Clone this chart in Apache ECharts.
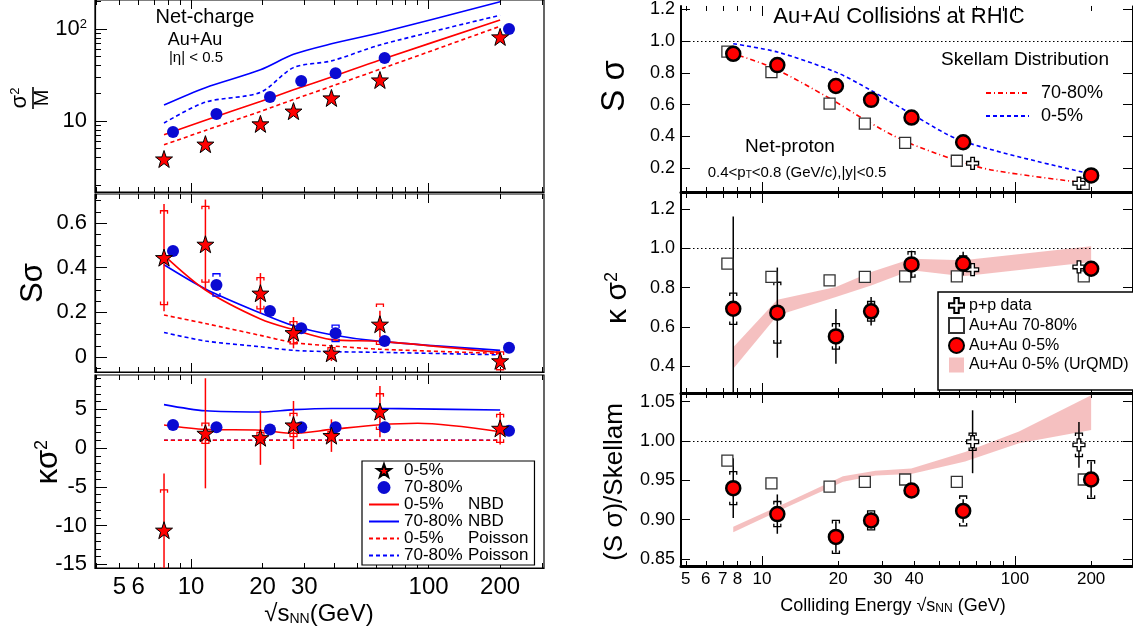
<!DOCTYPE html>
<html><head><meta charset="utf-8">
<script src="https://cdn.jsdelivr.net/npm/echarts@6/dist/echarts.min.js"></script>
<style>html,body{margin:0;padding:0;background:#fff}#c{width:1133px;height:636px}</style>
</head><body><div id="c"></div>
<script>
// ================= DATA =================
const energyAuAu = [7.7, 11.5, 19.6, 27, 39, 62.4, 200];
// ---- left: net-charge ----
const ncEnergy7080 = [8.4, 12.8, 21.5, 29.1, 40.6, 65.3, 218];
const ncVarM_05 = [3.86, 5.6, 9.3, 12.8, 17.8, 27.9, 82];
const ncVarM_7080 = [7.6, 11.9, 18.2, 27.2, 33, 48.4, 100];
const ncVarM_NBD05 = [7.1, 10.2, 16.3, 21.8, 30, 46, 125];
const ncVarM_NBD7080 = [14.9, 23, 36, 53, 69, 91, 198];
const ncVarM_Poi05 = [5.5, 7.9, 12.7, 17.1, 23.8, 36.5, 107];
const ncVarM_Poi7080 = [9.5, 16, 20.5, 38, 45, 67, 141];

const ncSs_05 = [0.445, 0.505, 0.286, 0.109, 0.017, 0.147, -0.017];
const ncSs_05stat = [0.24, 0.2, 0.09, 0.07, 0.035, 0.06, 0.02];
const ncSs_05sys = [0.21, 0.17, 0.07, 0.05, 0.025, 0.09, 0.04];
const ncSs_7080 = [0.475, 0.323, 0.206, 0.129, 0.106, 0.072, 0.042];
const ncSs_7080sys = [0, 0.05, 0, 0, 0.037, 0, 0];
const ncSs_NBD05 = [0.455, 0.3, 0.17, 0.122, 0.078, 0.07, 0.02];
const ncSs_NBD7080 = [0.413, 0.305, 0.197, 0.14, 0.1, 0.07, 0.03];
const ncSs_Poi05 = [0.188, 0.15, 0.097, 0.065, 0.05, 0.035, 0.016];
const ncSs_Poi7080 = [0.11, 0.072, 0.046, 0.03, 0.024, 0.021, 0.01];

const ncKs_05 = [-10.6, 1.9, 1.33, 2.97, 1.6, 4.7, 2.54];
const ncKs_05stat = [7.3, 7.1, 3.5, 3.1, 2.1, 3.3, 2.1];
const ncKs_05sys = [5.2, 1.3, 0.7, 1.5, 0.5, 2.3, 1.8];
const ncKs_7080 = [2.97, 2.67, 2.4, 2.67, 2.67, 2.67, 2.24];
const ncKsModelEnergy = [7.7, 11.5, 19.6, 27, 39, 62.4, 90, 200];
const ncKs_NBD05 = [2.97, 2.4, 2.3, 1.9, 2.4, 3.0, 3.2, 2.1];
const ncKs_NBD7080 = [5.6, 4.8, 4.65, 4.95, 5.1, 5.1, 5.05, 4.9];
const ncKs_Poi05 = [1, 1, 1, 1, 1, 1, 1, 1];
const ncKs_Poi7080 = [1, 1, 1, 1, 1, 1, 1, 1];

// ---- right: net-proton ----
const npEnergy7080 = [7.3, 10.9, 18.5, 25.5, 36.8, 58.9, 187];
const ppEnergy = [68, 179];
const npSs_05 = [0.919, 0.848, 0.717, 0.63, 0.519, 0.364, 0.156];
const npSs_7080 = [0.933, 0.804, 0.606, 0.481, 0.36, 0.248, 0.103];
const npSs_pp = [0.232, 0.107];
const skellam05 = [0.982, 0.93, 0.804, 0.689, 0.541, 0.37, 0.165];
const skellamEnergy7080 = [7.3, 10.9, 18.5, 25.5, 36.8, 58.9, 82, 187];
const skellam7080 = [0.93, 0.835, 0.64, 0.505, 0.37, 0.25, 0.188, 0.11];

const npKs_05 = [0.692, 0.672, 0.551, 0.679, 0.918, 0.922, 0.896];
const npKs_05stat = [0.47, 0.23, 0.14, 0.073, 0.07, 0.06, 0.02];
const npKs_05sys = [0.08, 0.155, 0.065, 0.05, 0.065, 0.04, 0.01];
const npKs_7080 = [0.922, 0.854, 0.837, 0.854, 0.857, 0.857, 0.857];
const npKs_pp = [0.891, 0.905];
const urqmdKsHigh = [0.496, 0.738, 0.803, 0.879, 0.947, 0.939, 1.01];
const urqmdKsLow = [0.386, 0.658, 0.752, 0.811, 0.888, 0.857, 0.93];

const npR_05 = [0.940, 0.907, 0.878, 0.899, 0.937, 0.911, 0.951];
const npR_05stat = [0.038, 0.025, 0.02, 0.01, 0.005, 0.015, 0.023];
const npR_05sys = [0.021, 0.016, 0.021, 0.012, 0.005, 0.019, 0.024];
const npR_7080 = [0.975, 0.946, 0.942, 0.948, 0.951, 0.948, 0.951];
const npR_7080sys = [0, 0, 0, 0.006, 0.006, 0.006, 0];
const npR_pp = [0.999, 0.995];
const npR_ppstat = [0.04, 0.029];
const npR_ppsys = [0.011, 0.015];
const urqmdREnergy = [7.7, 12.4, 20.9, 28.1, 38.9, 63.5, 103.7, 200];
const urqmdRHigh = [0.891, 0.921, 0.955, 0.962, 0.965, 0.986, 1.012, 1.058];
const urqmdRLow = [0.884, 0.915, 0.948, 0.956, 0.958, 0.974, 0.997, 1.014];

// tick label lists
const leftXLabels = [5, 6, 10, 20, 30, 100, 200];
const rightXLabels = [5, 6, 7, 8, 10, 20, 30, 40, 100, 200];
const xMajorTicks = [10, 100];
const leftXMinorTicks = [4, 5, 6, 7, 8, 9, 20, 30, 40, 50, 60, 70, 80, 90, 200, 300];
const rightXMinorTicks = [5, 6, 7, 8, 9, 20, 30, 40, 50, 60, 70, 80, 90, 200];
const ltYLabels = [10, 100];
const ltYMinor = [2, 3, 4, 5, 6, 7, 8, 9, 20, 30, 40, 50, 60, 70, 80, 90, 200];
const lmYLabels = [0, 0.2, 0.4, 0.6];
const lbYLabels = [-15, -10, -5, 0, 5];
const rtYLabels = [0.2, 0.4, 0.6, 0.8, 1.0, 1.2];
const rmYLabels = [0.4, 0.6, 0.8, 1.0, 1.2];
const rbYLabels = [0.85, 0.90, 0.95, 1.00, 1.05];

// ================= BUILD =================
const L10 = Math.log10;
const FONT = '"Liberation Sans", Arial, Helvetica, sans-serif';
const RED = '#ff0000', BLUE = '#0000ff';
const grids = [], xAxis = [], yAxis = [], series = [];
const PX = [], PY = [];
const rng = (a, b, s) => { const r = []; for (let v = a; v <= b + 1e-9; v += s) r.push(+v.toFixed(4)); return r; };

function panel(box, xr, yr, o) {
  const gi = grids.length;
  grids.push({left: box[0], top: box[1], width: box[2], height: box[3], show: !!o.border,
    borderColor: '#000', borderWidth: 1.2, backgroundColor: 'transparent'});
  const xb = {gridIndex: gi, type: 'value', min: xr[0], max: xr[1], splitLine: {show: false}, axisPointer: {show: false}};
  PX[gi] = xAxis.length;
  const lab = o.xLabels ? {show: true, customValues: o.xLabels.map(L10),
      formatter: v => String(Math.round(Math.pow(10, v))), margin: o.xMargin, fontSize: o.xFont,
      color: '#000', fontFamily: FONT} : {show: false};
  xAxis.push(Object.assign({}, xb, {position: 'bottom',
    axisLine: {show: true, onZero: false, lineStyle: {color: '#000', width: o.xLineW}},
    axisTick: {inside: true, length: o.xMaj, customValues: xMajorTicks.map(L10), lineStyle: {color: '#000', width: 1}},
    axisLabel: lab}));
  xAxis.push(Object.assign({}, xb, {position: 'bottom', axisLine: {show: false, onZero: false},
    axisTick: {inside: true, length: o.xMin, customValues: o.xMinor.map(L10), lineStyle: {color: '#000', width: 1}},
    axisLabel: {show: false}}));
  xAxis.push(Object.assign({}, xb, {position: 'top',
    axisLine: {show: !!o.topLine, onZero: false, lineStyle: {color: '#000', width: o.topLine || 1}},
    axisTick: {inside: true, length: o.xMaj, customValues: xMajorTicks.map(L10), lineStyle: {color: '#000', width: 1}},
    axisLabel: {show: false}}));
  xAxis.push(Object.assign({}, xb, {position: 'top', axisLine: {show: false, onZero: false},
    axisTick: {inside: true, length: o.xMin, customValues: o.xMinor.map(L10), lineStyle: {color: '#000', width: 1}},
    axisLabel: {show: false}}));
  const yb = {gridIndex: gi, type: 'value', min: yr[0], max: yr[1], splitLine: {show: false}, axisPointer: {show: false}};
  PY[gi] = yAxis.length;
  yAxis.push(Object.assign({}, yb, {position: 'left',
    axisLine: {show: true, onZero: false, lineStyle: {color: '#000', width: o.yLineW}},
    axisTick: {inside: true, length: o.yMaj, customValues: o.yLabels, lineStyle: {color: '#000', width: 1}},
    axisLabel: {show: true, customValues: o.yLabels, formatter: o.yFmt, margin: o.yMargin, fontSize: o.yFont,
      color: '#000', fontFamily: FONT, rich: o.yRich || {}}}));
  if (o.yMinor) yAxis.push(Object.assign({}, yb, {position: 'left', axisLine: {show: false, onZero: false},
    axisTick: {inside: true, length: o.yMin, customValues: o.yMinor, lineStyle: {color: '#000', width: 1}},
    axisLabel: {show: false}}));
  if (o.rightTicks) yAxis.push(Object.assign({}, yb, {position: 'right',
    axisLine: {show: true, onZero: false, lineStyle: {color: '#000', width: 1}},
    axisTick: {inside: true, length: o.yMaj, customValues: o.yLabels, lineStyle: {color: '#000', width: 1}},
    axisLabel: {show: false}}));
  return gi;
}

function lineS(gi, name, xs, ys, color, type, logY, z) {
  series.push({type: 'line', name, xAxisIndex: PX[gi], yAxisIndex: PY[gi], symbol: 'none', smooth: 0.3,
    data: xs.map((x, i) => [L10(x), logY ? L10(ys[i]) : ys[i]]),
    lineStyle: {color, width: 1.6, type}, itemStyle: {color}, z: z || 3, silent: true, clip: true});
}
function scat(gi, name, xs, ys, symbol, size, itemStyle, logY, z, extra) {
  series.push(Object.assign({type: 'scatter', name, xAxisIndex: PX[gi], yAxisIndex: PY[gi], symbol, symbolSize: size,
    data: xs.map((x, i) => [L10(x), logY ? L10(ys[i]) : ys[i]]),
    itemStyle: Object.assign({opacity: 1}, itemStyle), z: z || 6, silent: true, clip: true}, extra || {}));
}
function errS(gi, xs, ys, es, color, kind, z) {
  series.push({type: 'custom', name: 'err', xAxisIndex: PX[gi], yAxisIndex: PY[gi], clip: true, silent: true, z: z || 4,
    data: xs.map((x, i) => [L10(x), ys[i], es[i]]).filter(d => d[2] > 0),
    renderItem: (params, api) => {
      const x = api.value(0), y = api.value(1), e = api.value(2);
      const a = api.coord([x, y + e]), b = api.coord([x, y - e]);
      if (kind === 'stat') return {type: 'line', shape: {x1: a[0], y1: a[1], x2: b[0], y2: b[1]},
        style: {stroke: color, lineWidth: 1.5}};
      const w = 3.5, h = 3;
      return {type: 'group', children: [
        {type: 'polyline', shape: {points: [[a[0] - w, a[1] + h], [a[0] - w, a[1]], [a[0] + w, a[1]], [a[0] + w, a[1] + h]]},
          style: {stroke: color, fill: null, lineWidth: 1.3}},
        {type: 'polyline', shape: {points: [[b[0] - w, b[1] - h], [b[0] - w, b[1]], [b[0] + w, b[1]], [b[0] + w, b[1] - h]]},
          style: {stroke: color, fill: null, lineWidth: 1.3}}]};
    }});
}
function bandS(gi, name, xs, lo, hi, color) {
  series.push({type: 'custom', name, xAxisIndex: PX[gi], yAxisIndex: PY[gi], clip: true, silent: true, z: 2,
    itemStyle: {color}, data: [[L10(xs[0]), lo[0]]],
    renderItem: (params, api) => {
      const top = xs.map((x, i) => api.coord([L10(x), hi[i]]));
      const bot = xs.map((x, i) => api.coord([L10(x), lo[i]])).reverse();
      return {type: 'polygon', shape: {points: top.concat(bot)}, style: {fill: color}};
    }});
}
const oneLine = {silent: true, symbol: ['none', 'none'], label: {show: false},
  lineStyle: {type: [1.5, 2.5], color: '#000', width: 1}, data: [{yAxis: 1}]};

// ---- panels ----
const LX = [0.596, 2.4857], RX = [0.680, 2.4625];
const leftCommon = {border: true, xMajor: xMajorTicks, xMinor: leftXMinorTicks, xMaj: 9, xMin: 5,
  xLineW: 1.2, yLineW: 1.2, yMaj: 12, yMin: 6, yMargin: 8, yFont: 22};
const g0 = panel([95, 0, 449, 192], LX, [0.228, 2.315], Object.assign({}, leftCommon, {
  yLabels: ltYLabels.map(L10), yMinor: ltYMinor.map(L10),
  yFmt: v => v > 1.5 ? '{a|10}{s|2}' : '{a|10}',
  yRich: {a: {fontSize: 22, fontFamily: FONT, color: '#000', lineHeight: 22},
          s: {fontSize: 13, fontFamily: FONT, color: '#000', lineHeight: 13, verticalAlign: 'top', padding: [0, 0, 12, 0]}}}));
const g1 = panel([95, 194, 449, 178], LX, [-0.067, 0.730], Object.assign({}, leftCommon, {
  yLabels: lmYLabels, yMinor: rng(-0.05, 0.7, 0.05), yFmt: v => String(v)}));
const g2 = panel([95, 375, 449, 193], LX, [-15.48, 9.42], Object.assign({}, leftCommon, {
  yLabels: lbYLabels, yMinor: rng(-15, 9, 1), yFmt: v => String(v),
  xLabels: leftXLabels, xMargin: 7, xFont: 24}));
const rightCommon = {border: false, xMajor: xMajorTicks, xMinor: rightXMinorTicks, xMaj: 10, xMin: 5,
  xLineW: 3, yLineW: 2, yMaj: 9, yMargin: 6, yFont: 18, rightTicks: true};
const g3 = panel([681, 0, 451, 192], RX, [0.052, 1.219], Object.assign({}, rightCommon, {
  yLabels: rtYLabels, yFmt: v => v.toFixed(1)}));
const g4 = panel([681, 193, 451, 200], RX, [0.2625, 1.282], Object.assign({}, rightCommon, {
  yLabels: rmYLabels, yFmt: v => v.toFixed(1), topLine: 1}));
const g5 = panel([681, 393, 451, 173], RX, [0.841, 1.061], Object.assign({}, rightCommon, {
  yLabels: rbYLabels, yFmt: v => v.toFixed(2), topLine: 1,
  xLabels: rightXLabels, xMargin: 5, xFont: 17}));

// ---- series: left ----
const STAR = 'path://M50,2 L61.8,36.2 L97.6,36.5 L69,58 L79.4,92.4 L50,71.7 L20.6,92.4 L31,58 L2.4,36.5 L38.2,36.2 Z';
const starStyle = {color: '#ff0000', borderColor: '#000', borderWidth: 1};
const blueDot = {color: '#0a0ad2'};
// top
lineS(g0, '70-80% NBD', energyAuAu, ncVarM_NBD7080, BLUE, 'solid', true);
lineS(g0, '0-5% NBD', energyAuAu, ncVarM_NBD05, RED, 'solid', true);
lineS(g0, '70-80% Poisson', energyAuAu, ncVarM_Poi7080, BLUE, [4, 3], true);
lineS(g0, '0-5% Poisson', energyAuAu, ncVarM_Poi05, RED, [4, 3], true);
scat(g0, '70-80%', ncEnergy7080, ncVarM_7080, 'circle', 12, blueDot, true);
scat(g0, '0-5%', energyAuAu, ncVarM_05, STAR, 17, starStyle, true, 7);
// mid
lineS(g1, '70-80% Poisson', energyAuAu, ncSs_Poi7080, BLUE, [4, 3]);
lineS(g1, '0-5% Poisson', energyAuAu, ncSs_Poi05, RED, [4, 3]);
lineS(g1, '70-80% NBD', energyAuAu, ncSs_NBD7080, BLUE, 'solid');
lineS(g1, '0-5% NBD', energyAuAu, ncSs_NBD05, RED, 'solid');
errS(g1, ncEnergy7080, ncSs_7080, ncSs_7080sys, BLUE, 'sys');
errS(g1, energyAuAu, ncSs_05, ncSs_05stat, RED, 'stat');
errS(g1, energyAuAu, ncSs_05, ncSs_05sys, RED, 'sys');
scat(g1, '70-80%', ncEnergy7080, ncSs_7080, 'circle', 12, blueDot);
scat(g1, '0-5%', energyAuAu, ncSs_05, STAR, 17, starStyle, false, 7);
// bottom
lineS(g2, '70-80% Poisson', ncKsModelEnergy, ncKs_Poi7080, BLUE, [4, 3]);
lineS(g2, '0-5% Poisson', ncKsModelEnergy, ncKs_Poi05, RED, [4, 3]);
lineS(g2, '70-80% NBD', ncKsModelEnergy, ncKs_NBD7080, BLUE, 'solid');
lineS(g2, '0-5% NBD', ncKsModelEnergy, ncKs_NBD05, RED, 'solid');
errS(g2, energyAuAu, ncKs_05, ncKs_05stat, RED, 'stat');
errS(g2, energyAuAu, ncKs_05, ncKs_05sys, RED, 'sys');
scat(g2, '70-80%', ncEnergy7080, ncKs_7080, 'circle', 12, blueDot);
scat(g2, '0-5%', energyAuAu, ncKs_05, STAR, 17, starStyle, false, 7);

// ---- series: right ----
const CROSS = 'path://M35,0 L65,0 L65,35 L100,35 L100,65 L65,65 L65,100 L35,100 L35,65 L0,65 L0,35 L35,35 Z';
const crossStyle = {color: '#fff', borderColor: '#000', borderWidth: 1.3};
const sqStyle = {color: '#fff', borderColor: '#333', borderWidth: 1.3};
const redDot = {color: '#ff0000', borderColor: '#000', borderWidth: 2.5};
const BAND = 'rgba(236,140,140,0.55)';
// top
lineS(g3, 'Skellam 70-80%', skellamEnergy7080, skellam7080, RED, [5, 3, 1, 3]);
lineS(g3, 'Skellam 0-5%', energyAuAu, skellam05, BLUE, [4, 3]);
scat(g3, 'Au+Au 70-80%', npEnergy7080, npSs_7080, 'rect', 11, sqStyle);
scat(g3, 'p+p data', ppEnergy, npSs_pp, CROSS, 12, crossStyle);
scat(g3, 'Au+Au 0-5%', energyAuAu, npSs_05, 'circle', 14, redDot, false, 7, {markLine: oneLine});
// mid
bandS(g4, 'Au+Au 0-5% (UrQMD)', energyAuAu, urqmdKsLow, urqmdKsHigh, BAND);
scat(g4, 'Au+Au 70-80%', npEnergy7080, npKs_7080, 'rect', 11, sqStyle);
scat(g4, 'p+p data', ppEnergy, npKs_pp, CROSS, 12, crossStyle);
errS(g4, energyAuAu, npKs_05, npKs_05stat, '#000', 'stat');
errS(g4, energyAuAu, npKs_05, npKs_05sys, '#000', 'sys');
scat(g4, 'Au+Au 0-5%', energyAuAu, npKs_05, 'circle', 14, redDot, false, 7, {markLine: oneLine});
// bottom
bandS(g5, 'Au+Au 0-5% (UrQMD)', urqmdREnergy, urqmdRLow, urqmdRHigh, BAND);
errS(g5, npEnergy7080, npR_7080, npR_7080sys, '#000', 'sys');
scat(g5, 'Au+Au 70-80%', npEnergy7080, npR_7080, 'rect', 11, sqStyle);
errS(g5, ppEnergy, npR_pp, npR_ppstat, '#000', 'stat');
errS(g5, ppEnergy, npR_pp, npR_ppsys, '#000', 'sys');
scat(g5, 'p+p data', ppEnergy, npR_pp, CROSS, 12, crossStyle);
errS(g5, energyAuAu, npR_05, npR_05stat, '#000', 'stat');
errS(g5, energyAuAu, npR_05, npR_05sys, '#000', 'sys');
scat(g5, 'Au+Au 0-5%', energyAuAu, npR_05, 'circle', 14, redDot, false, 7, {markLine: oneLine});

// ---- legends ----
const t = (size, extra) => Object.assign({fontSize: size, fontFamily: FONT, color: '#000'}, extra || {});
const lineItem = name => ({name, itemStyle: {opacity: 0}});
const legends = [
  {left: 362, top: 461, orient: 'vertical', padding: [1, 6, 1, 6], itemGap: 0, itemWidth: 30, itemHeight: 13,
   borderColor: '#000', borderWidth: 1.2, backgroundColor: '#fff', selectedMode: false, z: 20,
   data: ['0-5%', '70-80%', lineItem('0-5% NBD'), lineItem('70-80% NBD'), lineItem('0-5% Poisson'), lineItem('70-80% Poisson')],
   formatter: n => { const i = n.indexOf(' '); return i < 0 ? '{a|' + n + '}' : '{a|' + n.slice(0, i) + '}{b|' + n.slice(i + 1) + '}'; },
   textStyle: t(17, {lineHeight: 16, rich: {a: t(17, {width: 64, lineHeight: 16}), b: t(17, {lineHeight: 16})}})},
  {left: 938, top: 292, orient: 'vertical', padding: [5, 8, 17, 10], itemGap: 3, itemWidth: 15, itemHeight: 15,
   borderColor: '#000', borderWidth: 1.5, backgroundColor: '#fff', selectedMode: false, z: 20,
   data: ['p+p data', 'Au+Au 70-80%', 'Au+Au 0-5%', {name: 'Au+Au 0-5% (UrQMD)', icon: 'rect', itemStyle: {color: BAND}}],
   textStyle: t(16, {lineHeight: 16})},
  {left: 985, top: 84, orient: 'vertical', padding: 0, itemGap: 5, itemWidth: 43, itemHeight: 10, selectedMode: false,
   data: [lineItem('Skellam 70-80%'), lineItem('Skellam 0-5%')],
   formatter: n => '{p|' + n.replace('Skellam ', '') + '}',
   textStyle: t(18, {lineHeight: 16, rich: {p: t(18, {padding: [0, 0, 0, 7], lineHeight: 16})}})}
];

// ---- text graphics ----
const txt = (x, y, text, size, extra) => ({type: 'text', x, y, z: 30, style: Object.assign({text, fontSize: size,
  fontFamily: FONT, fill: '#000', align: 'center', verticalAlign: 'middle'}, extra || {})});
const R90 = Math.PI / 2;
const graphic = [
  txt(205, 17, 'Net-charge', 20),
  txt(195, 40, 'Au+Au', 18),
  txt(196, 58, '|η| < 0.5', 15),
  {type: 'group', x: 33, y: 98, rotation: R90, z: 30, children: [
    {type: 'text', x: 0, y: -13, style: {text: '{a|σ}{s|2}', align: 'center', verticalAlign: 'middle', fill: '#000',
      rich: {a: t(22, {lineHeight: 22}), s: t(13, {lineHeight: 13, verticalAlign: 'top', padding: [0, 0, 10, 0]})}}},
    {type: 'line', shape: {x1: -11, y1: 0, x2: 11, y2: 0}, style: {stroke: '#000', lineWidth: 1.6}},
    {type: 'text', x: 0, y: 9, style: {text: 'M', fontSize: 20, fontFamily: FONT, fill: '#000', align: 'center', verticalAlign: 'middle'}}]},
  Object.assign(txt(33, 283, 'Sσ', 31), {rotation: R90}),
  Object.assign(txt(48, 462, '{a|κσ}{s|2}', 30, {rich: {a: t(31, {lineHeight: 30}), s: t(18, {lineHeight: 18, verticalAlign: 'top', padding: [0, 0, 14, 0]})}}), {rotation: R90}),
  txt(319, 614, '{m|√s}{s|NN}{m|(GeV)}', 24, {rich: {m: t(24, {lineHeight: 24}), s: t(14, {lineHeight: 14, verticalAlign: 'bottom', padding: [13, 0, 0, 0]})}}),
  // right
  txt(899, 17, 'Au+Au Collisions at RHIC', 22),
  txt(1025, 60, 'Skellam Distribution', 19),
  txt(790, 147, 'Net-proton', 19),
  txt(797, 173, '{m|0.4<p}{s|T}{m|<0.8 (GeV/c),|y|<0.5}', 15, {rich: {m: t(15, {lineHeight: 15}), s: t(10, {lineHeight: 10, verticalAlign: 'bottom', padding: [11, 0, 0, 0]})}}),
  Object.assign(txt(615, 86, 'S σ', 33), {rotation: R90}),
  Object.assign(txt(618, 298, '{a|κ σ}{s|2}', 30, {rich: {a: t(30, {lineHeight: 30}), s: t(18, {lineHeight: 18, verticalAlign: 'top', padding: [0, 0, 14, 0]})}}), {rotation: R90}),
  Object.assign(txt(615, 482, '(S σ)/Skellam', 26), {rotation: R90}),
  txt(893, 606, '{m|Colliding Energy √s}{s|NN}{m| (GeV)}', 18, {rich: {m: t(18, {lineHeight: 18}), s: t(12, {lineHeight: 12, verticalAlign: 'bottom', padding: [10, 0, 0, 0]})}})
];

const chart = echarts.init(document.getElementById('c'), null, {renderer: 'canvas'});
chart.setOption({
  animation: false, backgroundColor: '#fff',
  textStyle: {fontFamily: FONT},
  grid: grids, xAxis, yAxis, series, legend: legends, graphic
});
</script></body></html>
